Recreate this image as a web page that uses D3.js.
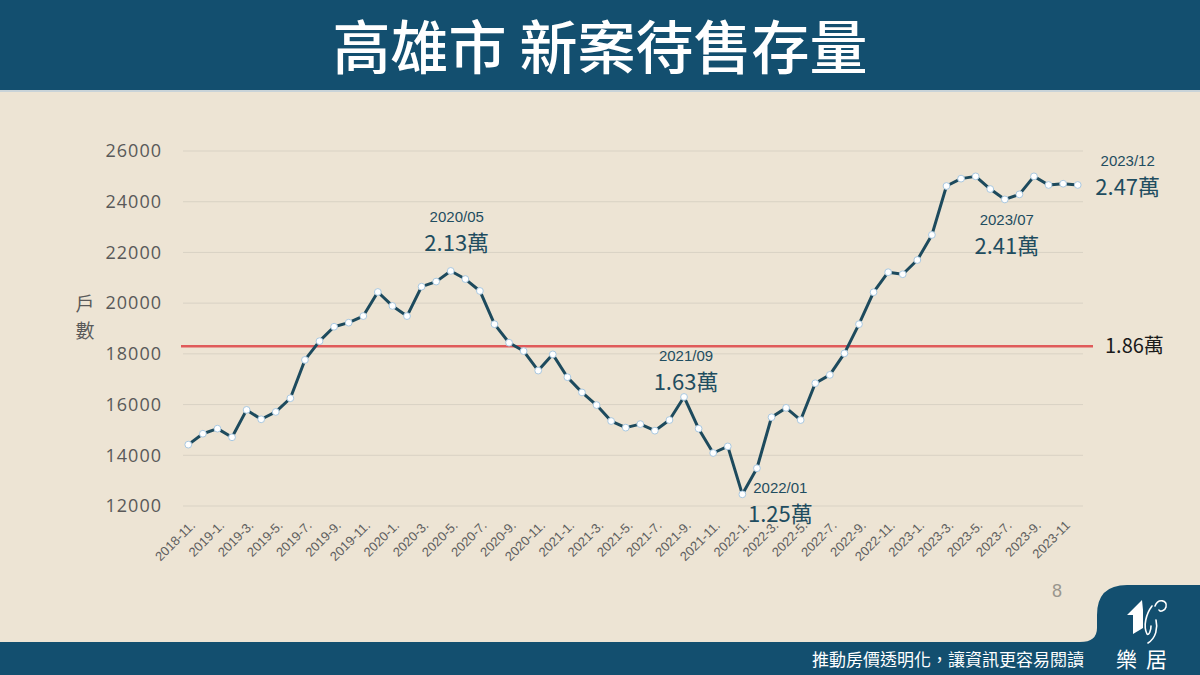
<!DOCTYPE html>
<html><head><meta charset="utf-8">
<script src="https://cdn.jsdelivr.net/npm/d3@7"></script>
<style>
html,body{margin:0;padding:0;background:#ede4d4;}
svg{display:block;}
</style></head>
<body>
<svg id="chart" width="1200" height="675"></svg>
<script>
const months = [
 "2018-11","2018-12","2019-1","2019-2","2019-3","2019-4","2019-5","2019-6","2019-7","2019-8","2019-9","2019-10","2019-11","2019-12",
 "2020-1","2020-2","2020-3","2020-4","2020-5","2020-6","2020-7","2020-8","2020-9","2020-10","2020-11","2020-12",
 "2021-1","2021-2","2021-3","2021-4","2021-5","2021-6","2021-7","2021-8","2021-9","2021-10","2021-11","2021-12",
 "2022-1","2022-2","2022-3","2022-4","2022-5","2022-6","2022-7","2022-8","2022-9","2022-10","2022-11","2022-12",
 "2023-1","2023-2","2023-3","2023-4","2023-5","2023-6","2023-7","2023-8","2023-9","2023-10","2023-11","2023-12"
];
const inventory = [
 14420,14850,15050,14710,15790,15420,15710,16250,17760,18500,19070,19230,19490,20440,
 19890,19490,20650,20850,21270,20950,20480,19170,18440,18110,17340,17980,
 17080,16480,15980,15350,15090,15230,14970,15390,16300,15050,14090,14350,
 12460,13490,15500,15870,15390,16840,17170,18020,19170,20430,21220,21140,
 21700,22690,24620,24910,25000,24500,24090,24290,25000,24660,24710,24660
];
const yTicks = [12000,14000,16000,18000,20000,22000,24000,26000];
const tickMonths = ["2018-11","2019-1","2019-3","2019-5","2019-7","2019-9","2019-11","2020-1","2020-3","2020-5","2020-7","2020-9","2020-11",
 "2021-1","2021-3","2021-5","2021-7","2021-9","2021-11","2022-1","2022-3","2022-5","2022-7","2022-9","2022-11",
 "2023-1","2023-3","2023-5","2023-7","2023-9","2023-11"];
const refValue = 18300;
const refLabel = "1.86萬";
const annotationMonths = ["2020-5","2021-9","2022-1","2023-7","2023-12"];
const annotationDates  = ["2020/05","2021/09","2022/01","2023/07","2023/12"];
const annotationTexts  = ["2.13萬","1.63萬","1.25萬","2.41萬","2.47萬"];

const svg = d3.select("#chart");
const W = 1200, H = 675;
const BLUE = "#134f6f";
const FONT = "'Noto Sans CJK TC','Noto Sans',sans-serif";

// background
svg.append("rect").attr("width",W).attr("height",H).attr("fill","#ede4d4");
// header
svg.append("rect").attr("x",0).attr("y",0).attr("width",W).attr("height",90).attr("fill",BLUE);
svg.append("rect").attr("x",0).attr("y",90).attr("width",W).attr("height",2).attr("fill","#c9d3d8");
svg.append("text").attr("x",600).attr("y",69).attr("text-anchor","middle")
 .attr("font-family",FONT).attr("font-weight",500).attr("font-size",58).attr("fill","#ffffff")
 .text("高雄市 新案待售存量");

// footer
svg.append("rect").attr("x",0).attr("y",642).attr("width",W).attr("height",33).attr("fill",BLUE);
svg.append("path").attr("fill",BLUE)
 .attr("d","M1080,642 Q1097,642 1097,628 L1097,615 Q1097,585 1127,585 L1200,585 L1200,675 L1080,675 Z");
svg.append("text").attr("x",1084).attr("y",666).attr("text-anchor","end")
 .attr("font-family",FONT).attr("font-size",17).attr("fill","#ffffff")
 .text("推動房價透明化，讓資訊更容易閱讀");
// logo
const logo = svg.append("g");
logo.append("path").attr("fill","#ffffff")
 .attr("d","M1142,600 L1127,615 L1133,615 L1133,634 L1143,628 L1143,610 Z");
logo.append("path").attr("fill","none").attr("stroke","#ffffff").attr("stroke-width",1.6).attr("stroke-linecap","round")
 .attr("d","M1152,606 C1146,614 1143,626 1147,634 C1149,636 1151,630 1151,626 M1156,620 C1158,628 1156,638 1148,643 M1155,606 C1158,598 1168,600 1166,607 C1165,611 1160,612 1159,610");
logo.append("text").attr("x",1146).attr("y",667).attr("text-anchor","middle")
 .attr("font-family",FONT).attr("font-size",21).attr("fill","#ffffff").attr("letter-spacing",9)
 .text("樂居");

// page number
svg.append("text").attr("x",1057).attr("y",597).attr("text-anchor","middle")
 .attr("font-family","'Liberation Sans',sans-serif").attr("font-size",18).attr("fill","#9a968e").text("8");

// scales
const x = d3.scalePoint().domain(months).range([181,1085]).padding(0.5);
const y = d3.scaleLinear().domain([12000,26000]).range([506,151]);

// gridlines
svg.append("g").selectAll("line").data(yTicks).join("line")
 .attr("x1",183).attr("x2",1083).attr("y1",d=>y(d)).attr("y2",d=>y(d))
 .attr("stroke","#d9d2c4").attr("stroke-width",1);

// y axis
const yAxis = d3.axisLeft(y).tickValues(yTicks).tickFormat(d3.format("d")).tickSize(0).tickPadding(0);
const yg = svg.append("g").attr("transform","translate(162,0)").call(yAxis);
yg.select(".domain").remove();
yg.selectAll("text").attr("font-family","'Open Sans','Liberation Sans',sans-serif").attr("font-size",18)
 .attr("letter-spacing",1).attr("fill","#595959");

// y label
svg.append("text").attr("x",85).attr("y",311).attr("text-anchor","middle")
 .attr("font-family",FONT).attr("font-size",19).attr("fill","#595959").text("戶");
svg.append("text").attr("x",85).attr("y",338).attr("text-anchor","middle")
 .attr("font-family",FONT).attr("font-size",19).attr("fill","#595959").text("數");

// x axis
const xAxis = d3.axisBottom(x).tickValues(tickMonths)
 .tickFormat(d => d === "2023-11" ? d : d + ".").tickSize(0).tickPadding(0);
const xg = svg.append("g").attr("transform","translate(0,519)").call(xAxis);
xg.select(".domain").remove();
xg.selectAll("text")
 .attr("font-family","'Liberation Sans',sans-serif").attr("font-size",13).attr("fill","#5f5f5f")
 .attr("text-anchor","end").attr("dy","0.35em")
 .attr("transform","translate(4,4) rotate(-45)");

// reference line
svg.append("line").attr("x1",181).attr("x2",1093).attr("y1",y(refValue)).attr("y2",y(refValue))
 .attr("stroke","#e05a5a").attr("stroke-width",2.5);
svg.append("text").attr("x",1105).attr("y",y(refValue)+7)
 .attr("font-family",FONT).attr("font-size",20).attr("fill","#1a1a1a").text(refLabel);

// line
const data = months.map((m,i)=>({m, v:inventory[i]}));
svg.append("path").datum(data)
 .attr("fill","none").attr("stroke","#1d4a5d").attr("stroke-width",3).attr("stroke-linejoin","round")
 .attr("d", d3.line().x(d=>x(d.m)).y(d=>y(d.v)));
svg.append("g").selectAll("circle").data(data).join("circle")
 .attr("cx",d=>x(d.m)).attr("cy",d=>y(d.v)).attr("r",3.4)
 .attr("fill","#ffffff").attr("stroke","#a9c8e0").attr("stroke-width",1);

// annotations (label placement offsets relative to the point: [dx, dateDy, valueDy])
const annLayout = [[6,-49,-20],[2,-36,-7],[38,-1,28],[2,26,55],[50,-19,10]];
const ANN = "#1f4d60";
annotationMonths.forEach((m,k)=>{
  const i = months.indexOf(m);
  const px = x(m), py = y(inventory[i]);
  const [dx,d1,d2] = annLayout[k];
  svg.append("text").attr("x",px+dx).attr("y",py+d1).attr("text-anchor","middle")
   .attr("font-family","'Liberation Sans',sans-serif").attr("font-size",15).attr("fill",ANN)
   .text(annotationDates[k]);
  svg.append("text").attr("x",px+dx).attr("y",py+d2).attr("text-anchor","middle")
   .attr("font-family",FONT).attr("font-size",22).attr("fill",ANN)
   .text(annotationTexts[k]);
});
</script>
</body></html>
